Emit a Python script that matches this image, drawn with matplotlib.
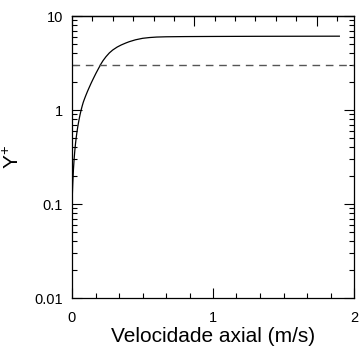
import matplotlib
matplotlib.use("Agg")
import matplotlib.pyplot as plt
from matplotlib.ticker import MultipleLocator, LogLocator, NullFormatter

plt.rcParams['font.family'] = ['Liberation Sans', 'DejaVu Sans']
plt.rcParams['mathtext.default'] = 'regular'

# Data
velocidade = [0.0, 0.005, 0.01, 0.015, 0.02, 0.025, 0.03, 0.035, 0.04, 0.045, 0.05,
              0.057, 0.064, 0.072, 0.08, 0.09, 0.099, 0.11, 0.12, 0.135, 0.15,
              0.17, 0.19, 0.206, 0.22, 0.241, 0.265, 0.289, 0.32, 0.348, 0.38,
              0.406, 0.45, 0.501, 0.55, 0.6, 0.667, 0.8, 1.0, 1.3, 1.6, 1.896]
y_plus = [0.1, 0.16, 0.23, 0.30, 0.37, 0.44, 0.51, 0.58, 0.65, 0.72, 0.79,
          0.89, 0.99, 1.10, 1.21, 1.33, 1.44, 1.58, 1.71, 1.92, 2.14,
          2.46, 2.8, 3.1, 3.35, 3.69, 4.05, 4.35, 4.67, 4.91, 5.15,
          5.33, 5.58, 5.79, 5.9, 5.97, 6.01, 6.04, 6.06, 6.08, 6.09, 6.1]
limite = 3.0
y_ticks = [0.01, 0.1, 1, 10]
y_ticklabels = ["0.01", "0.1", "1", "10"]
x_ticks = [0, 1, 2]
x_ticklabels = ["0", "1", "2"]

fig = plt.figure(figsize=(3.6, 3.54), dpi=100)
ax = fig.add_axes([72/360, 1-298/354, (354-72)/360, (298-16)/354])

ax.plot(velocidade, y_plus, color='black', lw=0.9)
ax.axhline(limite, color='#555555', lw=1.0, dashes=(5.5, 4.1))

ax.set_yscale('log')
ax.set_xlim(0, 2)
ax.set_ylim(0.01, 10)
ax.set_yticks(y_ticks)
ax.set_yticklabels(y_ticklabels)
ax.yaxis.set_minor_locator(LogLocator(base=10, subs=range(2, 10)))
ax.yaxis.set_minor_formatter(NullFormatter())
ax.set_xticks(x_ticks)
ax.set_xticklabels(x_ticklabels)
ax.xaxis.set_minor_locator(MultipleLocator(1/6))

ax.tick_params(which='both', direction='in', right=True, top=False, width=0.8,
               labelsize=10.5, colors='black')
ax.tick_params(which='major', length=7.5)
ax.tick_params(which='minor', length=3.6)
ax.tick_params(axis='y', pad=6.5)
ax.tick_params(axis='x', pad=9)

for s in ax.spines.values():
    s.set_linewidth(0.9)

# top axis with a different scale, unlabeled
k = 0.8675
sec = ax.secondary_xaxis('top', functions=(lambda x: x / k, lambda x: x * k))
sec.set_xticks([0, 1, 2])
sec.xaxis.set_minor_locator(MultipleLocator(1/6))
sec.tick_params(which='both', direction='in', width=0.8, labeltop=False)
sec.tick_params(which='major', length=7.5)
sec.tick_params(which='minor', length=3.6)
sec.spines['top'].set_linewidth(0.9)

ax.set_xlabel("Velocidade axial (m/s)", fontsize=15, labelpad=2)
ax.set_ylabel(r"Y$^{+}$", fontsize=15, labelpad=8)

fig.savefig("out.png", dpi=100)
